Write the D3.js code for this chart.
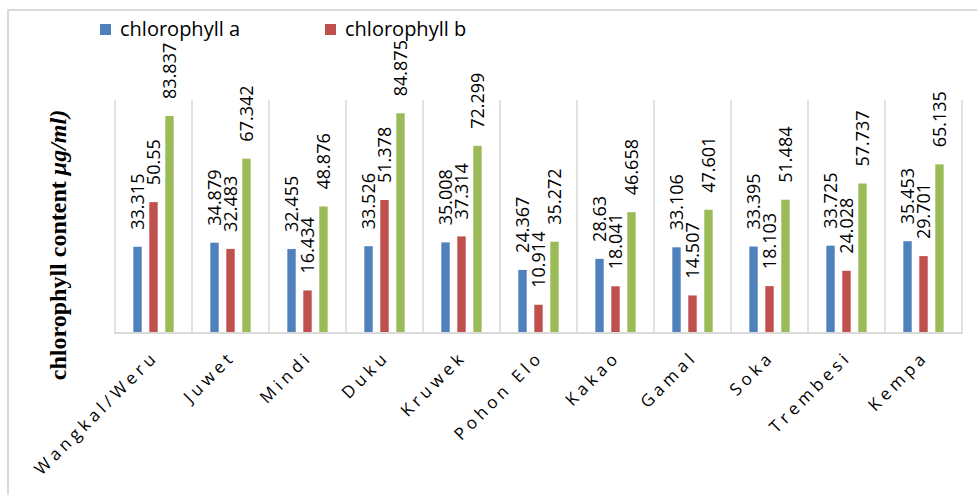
<!DOCTYPE html>
<html><head><meta charset="utf-8">
<script src="https://cdn.jsdelivr.net/npm/d3@7"></script>
<style>html,body{margin:0;padding:0;background:#fff;}svg{display:block;}</style>
</head><body>
<svg id="chart" width="977" height="495"></svg>
<script>
const categories = ["Wangkal/Weru","Juwet","Mindi","Duku","Kruwek","Pohon Elo","Kakao","Gamal","Soka","Trembesi","Kempa"];
const chlorophyllA = [33.315,34.879,32.455,33.526,35.008,24.367,28.63,33.106,33.395,33.725,35.453];
const chlorophyllB = [50.55,32.483,16.434,51.378,37.314,10.914,18.041,14.507,18.103,24.028,29.701];
const totalChlorophyll = [83.837,67.342,48.876,84.875,72.299,35.272,46.658,47.601,51.484,57.737,65.135];
const seriesNames = ["chlorophyll a","chlorophyll b","total chlorophyll"];
const legendNames = ["chlorophyll a","chlorophyll b"];
const colors = ["#4f81bd","#c0504d","#9bbb59"];
const yMax = 90;

const seriesValues = [chlorophyllA, chlorophyllB, totalChlorophyll];
const svg = d3.select("#chart");
const plot = {left:115, right:962, top:100, bottom:333};

// outer frame
svg.append("rect").attr("x",8).attr("y",10).attr("width",1000).attr("height",600)
  .attr("fill","none").attr("stroke","#d9d9d9").attr("stroke-width",2);

const x0 = d3.scaleBand().domain(categories).range([plot.left, plot.right]).padding(0);
const bw = x0.bandwidth();
const x1 = d3.scaleBand().domain(seriesNames).range([bw*0.238, bw*0.762]).paddingInner(0.475).paddingOuter(0);
const y = d3.scaleLinear().domain([0,yMax]).range([plot.bottom, plot.top]);

// vertical gridlines at category boundaries
const bounds = categories.map(c => x0(c)).concat([plot.right]);
svg.append("g").selectAll("line").data(bounds).join("line")
  .attr("x1",d=>d).attr("x2",d=>d).attr("y1",plot.top).attr("y2",plot.bottom)
  .attr("stroke","#d9d9d9").attr("stroke-width",1.5);

// bars
const groups = svg.append("g").selectAll("g").data(categories).join("g")
  .attr("transform", c => `translate(${x0(c)},0)`);
groups.selectAll("rect").data((c,i) => seriesNames.map((s,j)=>({s, j, v: seriesValues[j][i]})))
  .join("rect")
  .attr("x", d => x1(d.s)).attr("width", x1.bandwidth())
  .attr("y", d => y(d.v)).attr("height", d => plot.bottom - y(d.v))
  .attr("fill", d => colors[d.j]);

// data labels
groups.selectAll("text").data((c,i) => seriesNames.map((s,j)=>({s, j, v: seriesValues[j][i]})))
  .join("text")
  .attr("transform", d => `translate(${x1(d.s)+x1.bandwidth()/2},${y(d.v)-17}) rotate(-90)`)
  .attr("dy","0.36em")
  .attr("font-family","'Open Sans', sans-serif").attr("font-size",18).attr("fill","#000")
  .text(d => String(d.v));

// x axis line
svg.append("line").attr("x1",plot.left-1).attr("x2",plot.right+1).attr("y1",plot.bottom).attr("y2",plot.bottom)
  .attr("stroke","#d9d9d9").attr("stroke-width",2);

// category labels
const xAxis = d3.axisBottom(x0).tickSize(0).tickPadding(0);
const gx = svg.append("g").attr("transform",`translate(0,${plot.bottom})`).call(xAxis);
gx.select(".domain").remove();
gx.selectAll("text")
  .attr("font-family","'Open Sans', sans-serif").attr("font-size",17).attr("fill","#000")
  .attr("letter-spacing","4.2px")
  .attr("text-anchor","end").attr("dy",0).attr("y",0)
  .attr("transform","translate(6,25) rotate(-45)");

// y axis title
const yt = svg.append("text")
  .attr("transform",`translate(66,245) rotate(-90)`)
  .attr("text-anchor","middle")
  .attr("font-family","'Liberation Serif', 'Times New Roman', serif")
  .attr("font-size",24).attr("font-weight","bold").attr("fill","#000");
yt.append("tspan").text("chlorophyll content ");
yt.append("tspan").attr("font-style","italic").text("μg/ml)");

// legend
const lg = svg.append("g").selectAll("g").data(legendNames).join("g")
  .attr("transform",(d,i)=>`translate(${[100,325][i]},0)`);
lg.append("rect").attr("x",0).attr("y",24).attr("width",11).attr("height",11).attr("fill",(d,i)=>colors[i]);
lg.append("text").attr("x",20).attr("y",36).attr("font-family","'Open Sans', sans-serif")
  .attr("font-size",20).attr("fill","#000").text(d=>d);
</script>
</body></html>
